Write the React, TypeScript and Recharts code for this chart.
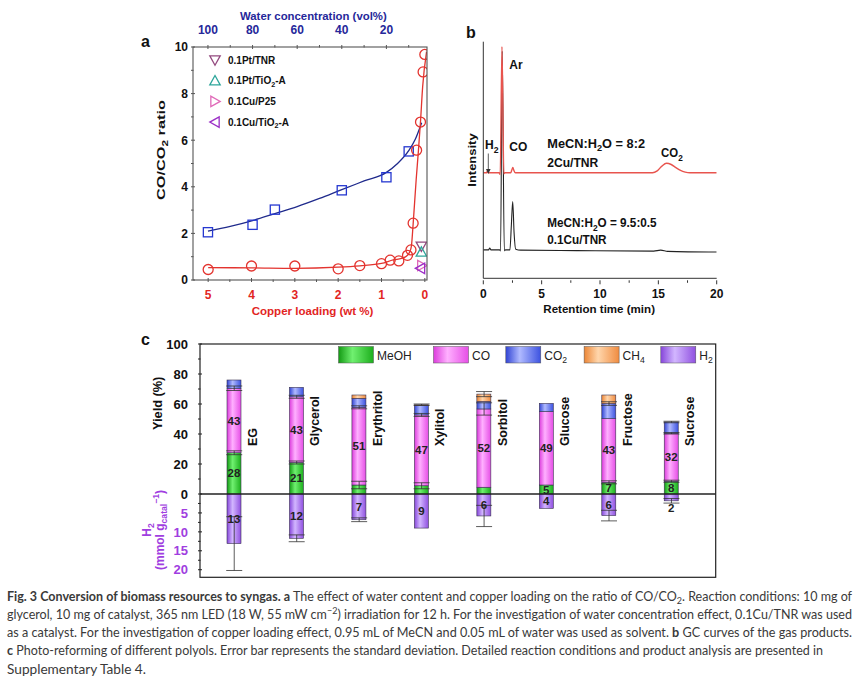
import React from 'react';
import {
  ComposedChart,
  Line,
  Scatter,
  Bar,
  XAxis,
  YAxis,
  LabelList,
  ErrorBar,
  Legend
} from 'recharts';

const FONT = '"Liberation Sans", Arial, sans-serif';
const CAPTION_FONT = 'Lato, "Open Sans", sans-serif';

// ---- a: CO/CO2 ratio vs water content / copper loading ----
const waterConc = [100, 80, 70, 40, 20, 10];
const waterRatio = [2.05, 2.37, 3.02, 3.85, 4.41, 5.52];
const waterFitConc = [100, 90, 80, 70, 60, 50, 40, 30, 20, 15, 10, 7, 4.2];
const waterFitRatio = [2.1, 2.3, 2.55, 2.85, 3.15, 3.5, 3.88, 4.25, 4.62, 5.0, 5.55, 6.05, 6.75];
const cuLoading = [5, 4, 3, 2, 1.5, 1, 0.8, 0.6, 0.4, 0.32, 0.27, 0.19, 0.1, 0.04, 0];
const cuRatio = [0.45, 0.6, 0.6, 0.48, 0.62, 0.7, 0.85, 0.82, 1.06, 1.29, 2.44, 5.57, 6.78, 8.93, 9.68];
const cuFitLoading = [5, 4, 3, 2, 1.5, 1, 0.73, 0.5, 0.42, 0.35, 0.31, 0.27, 0.2, 0.15, 0.1, 0.05, -0.04];
const cuFitRatio = [0.53, 0.52, 0.5, 0.55, 0.61, 0.71, 0.86, 0.95, 1.03, 1.2, 1.45, 2.4, 4.3, 5.5, 6.8, 8.3, 9.8];
const refCatalysts = ['0.1Pt/TNR', '0.1Pt/TiO_{2}-A', '0.1Cu/P25', '0.1Cu/TiO_{2}-A'];
const refLoading = [0.08, 0.08, 0.07, 0.1];
const refRatio = [1.45, 1.2, 0.62, 0.5];
const ratioTicks = [0, 1, 2, 3, 4, 5, 6, 7, 8, 9, 10];
const cuTicks = [0, 0.5, 1, 1.5, 2, 2.5, 3, 3.5, 4, 4.5, 5];
const waterTicks = [100, 90, 80, 70, 60, 50, 40, 30, 20, 10];

// ---- b: GC traces ----
const redTime = [0, 0.28, 0.36, 0.44, 1.35, 1.45, 1.6, 1.76, 1.86, 2.35, 2.45, 2.53, 2.62, 2.75, 14.5, 14.9, 15.3, 15.7, 16.1, 16.5, 16.9, 17.3, 17.7, 20];
const redSignal = [44.6, 44.6, 45.5, 44.6, 44.6, 43.9, 97.9, 44.2, 44.6, 44.6, 45.9, 46.8, 45.6, 44.6, 44.6, 45.4, 47.4, 48.6, 48.1, 46.8, 45.6, 44.9, 44.6, 44.6];
const blackTime = [0, 0.45, 0.55, 0.66, 1.4, 1.48, 1.62, 1.8, 1.9, 2.28, 2.4, 2.52, 2.64, 2.78, 3.2, 8, 14.6, 15.2, 15.8, 20];
const blackSignal = [12.0, 12.0, 12.8, 12.0, 12.0, 11.6, 96, 11.7, 12.0, 12.0, 22, 32.4, 19, 12.3, 11.9, 11.7, 11.5, 11.9, 11.4, 11.1];
const timeTicks = [0, 2.5, 5, 7.5, 10, 12.5, 15, 17.5, 20];

// ---- c: photo-reforming of polyols ----
const polyols = ['EG', 'Glycerol', 'Erythritol', 'Xylitol', 'Sorbitol', 'Glucose', 'Fructose', 'Sucrose'];
const meohYield = [27.5, 21, 6, 5.5, 4.5, 6, 7.8, 8.5];
const coYield = [43, 43.8, 51.8, 47.2, 52.2, 49, 42.5, 32];
const co2Yield = [5.5, 6.3, 6, 6.2, 5, 5.4, 10, 7.5];
const ch4Yield = [0, 0, 2.2, 0.6, 4.9, 0, 5.7, 0];
const h2Amount = [13.1, 11.7, 6.8, 9, 5.8, 3.8, 5.7, 1.8];
const meohErr = [1.3, 1.0, 2.5, 2.0, 0, 0, 1.0, 0.7];
const coErr = [1.5, 1.0, 1.0, 1.0, 4.1, 0, 0, 0.5];
const co2Err = [0, 0, 0, 0, 0, 0, 1.2, 0.5];
const ch4Err = [0, 0, 0, 0.5, 1.7, 0, 0, 0];
const h2Err = [7.1, 0.9, 0.5, 0, 2.8, 0, 1.4, 0.6];
const meohLabels = ['28', '21', null, null, null, '5', '7', '8'];
const coLabels = ['43', '43', '51', '47', '52', '49', '43', '32'];
const h2Labels = ['13', '12', '7', '9', '6', '4', '6', '2'];
const yieldTicks = [0, 10, 20, 30, 40, 50, 60, 70, 80, 90, 100];
const h2Ticks = [2.5, 5, 7.5, 10, 12.5, 15, 17.5, 20];

const NAME_Y = 32;

const waterPts = waterConc.map((w, i) => ({ water: w, ratio: waterRatio[i] }));
const waterFit = waterFitConc.map((w, i) => ({ water: w, ratio: waterFitRatio[i] }));
const cuPts = cuLoading.map((c, i) => ({ cu: c, ratio: cuRatio[i] }));
const cuFit = cuFitLoading.map((c, i) => ({ cu: c, ratio: cuFitRatio[i] }));
const redTrace = redTime.map((t, i) => ({ t, s: redSignal[i] }));
const blackTrace = blackTime.map((t, i) => ({ t, s: blackSignal[i] }));

const meohTop = meohYield;
const coTop = meohTop.map((v, i) => v + coYield[i]);
const co2Top = coTop.map((v, i) => v + co2Yield[i]);
const ch4Top = co2Top.map((v, i) => v + ch4Yield[i]);

const yieldRows = polyols.map((name, i) => ({
  name,
  meoh: meohYield[i],
  co: coYield[i],
  co2: co2Yield[i],
  ch4: ch4Yield[i],
  meohLabel: meohLabels[i],
  coLabel: coLabels[i],
  nameY: NAME_Y
}));
const h2Rows = polyols.map((name, i) => ({ name, h2: h2Amount[i], h2Label: h2Labels[i] }));

const errSets = [
  { key: 'meoh', top: meohTop, err: meohErr },
  { key: 'co', top: coTop, err: coErr },
  { key: 'co2', top: co2Top, err: co2Err },
  { key: 'ch4', top: ch4Top, err: ch4Err }
].map(s => ({
  key: s.key,
  points: polyols.map((name, i) => ({ name, y: s.top[i], e: s.err[i] })).filter(d => d.e > 0)
}));
const h2ErrPts = polyols.map((name, i) => ({ name, y: h2Amount[i], e: h2Err[i] })).filter(d => d.e > 0);

const SERIES = [
  { key: 'meoh', name: 'MeOH', stops: ['#139a13', '#70f070', '#1cae1c'] },
  { key: 'co', name: 'CO', stops: ['#dc3cdc', '#ffb0ff', '#e64ee6'] },
  { key: 'co2', name: 'CO_{2}', stops: ['#3144d4', '#b0baff', '#3c52e0'] },
  { key: 'ch4', name: 'CH_{4}', stops: ['#ec8636', '#ffd6ac', '#f08c40'] },
  { key: 'h2', name: 'H_{2}', stops: ['#8646da', '#d2b6ff', '#9050e0'] }
];

const REF_STYLE = [
  { kind: 'down', color: '#93497f' },
  { kind: 'up', color: '#2ea69b' },
  { kind: 'right', color: '#e06ab8' },
  { kind: 'left', color: '#9b2fc6' }
];

// text with _{sub}, ^{sup} and *{bold} runs
const parseChem = (s: string) => {
  const out: { t: string; k: string }[] = [];
  const re = /([_^*])\{([^}]*)\}/g;
  let last = 0;
  let m: RegExpExecArray | null;
  while ((m = re.exec(s)) !== null) {
    if (m.index > last) out.push({ t: s.slice(last, m.index), k: 'n' });
    out.push({ t: m[2], k: m[1] });
    last = re.lastIndex;
  }
  if (last < s.length) out.push({ t: s.slice(last), k: 'n' });
  return out;
};

const chemSpans = (s: string, size: number) => {
  let shift = 0;
  return parseChem(s).map((p, i) => {
    const target = p.k === '_' ? size * 0.28 : p.k === '^' ? -size * 0.38 : 0;
    const dy = target - shift;
    shift = target;
    const small = p.k === '_' || p.k === '^';
    return (
      <tspan key={i} dy={dy || undefined} fontSize={small ? size * 0.72 : undefined} fontWeight={p.k === '*' ? 'bold' : undefined}>
        {p.t}
      </tspan>
    );
  });
};

interface LabelSpec {
  x: number;
  y: number;
  s: string;
  size: number;
  color?: string;
  weight?: string;
  anchor?: 'start' | 'middle' | 'end';
  rot?: boolean;
  len?: number;
  family?: string;
}

const SvgLabel = ({ x, y, s, size, color = '#111', weight = 'bold', anchor = 'start', rot, len, family = FONT }: LabelSpec) => (
  <text
    x={x}
    y={y}
    fontSize={size}
    fill={color}
    fontWeight={weight}
    textAnchor={anchor}
    fontFamily={family}
    transform={rot ? `rotate(-90 ${x} ${y})` : undefined}
    textLength={len}
    lengthAdjust={len ? 'spacingAndGlyphs' : undefined}
  >
    {chemSpans(s, size)}
  </text>
);

// ticks drawn by hand so that minor ticks and inward ticks are possible
type Side = 'left' | 'right' | 'top' | 'bottom';
interface TickOpt {
  side: Side;
  major: number[];
  inward: boolean;
  gap: number;
  color: string;
  size: number;
  stroke: string;
  label?: boolean;
}

const makeTick = (o: TickOpt) => (props: any) => {
  const { x, y, payload } = props;
  const v = payload.value;
  const isMajor = o.major.some(m => Math.abs(m - v) < 1e-9);
  const len = isMajor ? 4 : 2.5;
  const inX = o.side === 'left' ? 1 : o.side === 'right' ? -1 : 0;
  const inY = o.side === 'top' ? 1 : o.side === 'bottom' ? -1 : 0;
  const d = o.inward ? 1 : -1;
  let label = null;
  if (isMajor && o.label !== false) {
    const off = (o.inward ? 0 : 4) + o.gap;
    let tx = x;
    let ty = y;
    let anchor = 'middle';
    if (o.side === 'left') {
      tx = x - off;
      ty = y + o.size * 0.36;
      anchor = 'end';
    } else if (o.side === 'right') {
      tx = x + off;
      ty = y + o.size * 0.36;
      anchor = 'start';
    } else if (o.side === 'bottom') {
      ty = y + off + o.size * 0.72;
    } else {
      ty = y - off;
    }
    label = (
      <text x={tx} y={ty} textAnchor={anchor} fill={o.color} fontSize={o.size} fontWeight="bold" fontFamily={FONT}>
        {v}
      </text>
    );
  }
  return (
    <g>
      <line x1={x} y1={y} x2={x + inX * d * len} y2={y + inY * d * len} stroke={o.stroke} strokeWidth={1} />
      {label}
    </g>
  );
};

const markerEl = (kind: string, cx: number, cy: number, color: string) => {
  const st = { fill: 'none', stroke: color, strokeWidth: 1.3 };
  const r = 5.2;
  switch (kind) {
    case 'circle':
      return <circle cx={cx} cy={cy} r={5} {...st} />;
    case 'square':
      return <rect x={cx - 4.6} y={cy - 4.6} width={9.2} height={9.2} {...st} />;
    case 'down':
      return <polygon points={`${cx - r},${cy - r * 0.8} ${cx + r},${cy - r * 0.8} ${cx},${cy + r}`} {...st} />;
    case 'up':
      return <polygon points={`${cx - r},${cy + r * 0.8} ${cx + r},${cy + r * 0.8} ${cx},${cy - r}`} {...st} />;
    case 'right':
      return <polygon points={`${cx - r * 0.8},${cy - r} ${cx - r * 0.8},${cy + r} ${cx + r},${cy}`} {...st} />;
    default:
      return <polygon points={`${cx + r * 0.8},${cy - r} ${cx + r * 0.8},${cy + r} ${cx - r},${cy}`} {...st} />;
  }
};

const RatioLegend = () => (
  <svg width={110} height={85}>
    {refCatalysts.map((name, i) => {
      const cy = 10 + i * 20.7;
      return (
        <g key={name}>
          {markerEl(REF_STYLE[i].kind, 10, cy, REF_STYLE[i].color)}
          <SvgLabel x={23} y={cy + 3.5} s={name} size={10} />
        </g>
      );
    })}
  </svg>
);

const RatioChart = () => (
  <ComposedChart width={320} height={330} margin={{ top: 20, right: 22, bottom: 10, left: 23 }}>
    <XAxis
      xAxisId="cu"
      type="number"
      dataKey="cu"
      domain={[-0.05, 5.35]}
      reversed
      allowDataOverflow
      ticks={cuTicks}
      interval={0}
      height={40}
      tickSize={0}
      tickLine={false}
      axisLine={false}
      tick={makeTick({ side: 'bottom', major: [0, 1, 2, 3, 4, 5], inward: true, gap: 8, color: '#e2261f', size: 12, stroke: '#555' })}
    />
    <XAxis
      xAxisId="water"
      type="number"
      dataKey="water"
      orientation="top"
      domain={[1.8, 106.7]}
      reversed
      allowDataOverflow
      ticks={waterTicks}
      interval={0}
      height={27}
      tickSize={0}
      tickLine={false}
      axisLine={false}
      tick={makeTick({ side: 'top', major: [100, 80, 60, 40, 20], inward: true, gap: 11, color: '#26279a', size: 12, stroke: '#555' })}
    />
    <YAxis
      yAxisId="l"
      type="number"
      domain={[0, 10]}
      allowDataOverflow
      ticks={ratioTicks}
      interval={0}
      width={40}
      tickSize={0}
      tickLine={false}
      axisLine={false}
      tick={makeTick({ side: 'left', major: [0, 2, 4, 6, 8, 10], inward: true, gap: 3, color: '#111', size: 12, stroke: '#555' })}
    />
    <YAxis
      yAxisId="r"
      orientation="right"
      type="number"
      domain={[0, 10]}
      ticks={ratioTicks}
      interval={0}
      width={1}
      tickSize={0}
      tickLine={false}
      axisLine={false}
      tick={makeTick({ side: 'right', major: [0, 2, 4, 6, 8, 10], inward: true, gap: 3, color: '#111', size: 12, stroke: '#555', label: false })}
    />
    <Legend
      layout="horizontal"
      verticalAlign="middle"
      align="center"
      wrapperStyle={{ left: 75, top: 50, width: 110, height: 85 }}
      content={() => <RatioLegend />}
    />
    <Line xAxisId="water" yAxisId="l" data={waterFit} dataKey="ratio" type="monotone" stroke="#1f2a8c" strokeWidth={1.3} dot={false} isAnimationActive={false} />
    <Line xAxisId="cu" yAxisId="l" data={cuFit} dataKey="ratio" type="monotone" stroke="#e3342f" strokeWidth={1.3} dot={false} isAnimationActive={false} />
    <Scatter xAxisId="water" yAxisId="l" data={waterPts} dataKey="ratio" shape={(p: any) => markerEl('square', p.cx, p.cy, '#2638d0')} isAnimationActive={false} />
    <Scatter xAxisId="cu" yAxisId="l" data={cuPts} dataKey="ratio" shape={(p: any) => markerEl('circle', p.cx, p.cy, '#e3342f')} isAnimationActive={false} />
    {refCatalysts.map((name, i) => (
      <Scatter
        key={name}
        xAxisId="cu"
        yAxisId="l"
        data={[{ cu: refLoading[i], ratio: refRatio[i] }]}
        dataKey="ratio"
        shape={(p: any) => markerEl(REF_STYLE[i].kind, p.cx, p.cy, REF_STYLE[i].color)}
        isAnimationActive={false}
      />
    ))}
  </ComposedChart>
);

const GcChart = () => (
  <ComposedChart width={300} height={300} margin={{ top: 21.7, right: 23.3, bottom: 11.7, left: 23.3 }}>
    <XAxis
      type="number"
      dataKey="t"
      domain={[0, 20]}
      allowDataOverflow
      ticks={timeTicks}
      interval={0}
      height={30}
      tickSize={0}
      tickLine={false}
      stroke="#333"
      tick={makeTick({ side: 'bottom', major: [0, 5, 10, 15, 20], inward: false, gap: 5, color: '#111', size: 12, stroke: '#333' })}
    />
    <YAxis type="number" domain={[0, 100]} allowDataOverflow width={20} tick={false} tickLine={false} stroke="#333" />
    <Line data={blackTrace} dataKey="s" type="monotone" stroke="#222" strokeWidth={1.1} dot={false} isAnimationActive={false} />
    <Line data={redTrace} dataKey="s" type="monotone" stroke="#e8544e" strokeWidth={1.4} dot={false} isAnimationActive={false} />
  </ComposedChart>
);

const gradDefs = (prefix: string) => (
  <defs>
    {SERIES.map(s => (
      <linearGradient key={s.key} id={`${prefix}-${s.key}`} x1="0" y1="0" x2="1" y2="0">
        <stop offset="0%" stopColor={s.stops[0]} />
        <stop offset="40%" stopColor={s.stops[1]} />
        <stop offset="100%" stopColor={s.stops[2]} />
      </linearGradient>
    ))}
  </defs>
);

const barShape = (gradId: string) => (p: any) => {
  const { x, y, width, height } = p;
  if (!height || Math.abs(height) < 0.01) return <g />;
  const top = Math.min(y, y + height);
  return <rect x={x} y={top} width={width} height={Math.abs(height)} fill={`url(#${gradId})`} stroke="#3b3350" strokeWidth={0.6} />;
};

const segLabel = (below: boolean) => (p: any) => {
  const vb = p.viewBox || p;
  const { value } = p;
  if (value == null || value === '') return null;
  const top = Math.min(vb.y, vb.y + vb.height);
  const bottom = Math.max(vb.y, vb.y + vb.height);
  const cx = vb.x + vb.width / 2;
  const cy = below && bottom - top < 12 ? bottom + 11 : (top + bottom) / 2 + 4;
  return (
    <text x={cx} y={cy} textAnchor="middle" fontSize={11.5} fontWeight="bold" fill="#222" fontFamily={FONT}>
      {value}
    </text>
  );
};

const nameShape = (p: any) => {
  const x = p.cx + 22.5;
  return (
    <text x={x} y={p.cy} transform={`rotate(-90 ${x} ${p.cy})`} fontSize={12.5} fontWeight="bold" fill="#111" fontFamily={FONT}>
      {p.payload.name}
    </text>
  );
};

const noDot = () => <g />;

const LEGEND_X = [0, 95, 167.3, 245.6, 322.3];

const YieldLegend = () => (
  <svg width={385} height={20}>
    {gradDefs('lg')}
    {SERIES.map((s, i) => (
      <g key={s.key}>
        <rect x={LEGEND_X[i] + 0.5} y={0.5} width={35} height={16.5} fill={`url(#lg-${s.key})`} stroke="#555" strokeWidth={0.5} />
        <SvgLabel x={LEGEND_X[i] + 39} y={13.5} s={s.name} size={12} weight="normal" color="#222" />
      </g>
    ))}
  </svg>
);

const YieldChart = () => (
  <ComposedChart width={620} height={180} data={yieldRows} margin={{ top: 14, right: 24.3, bottom: 16, left: 40 }}>
    {gradDefs('yc')}
    <XAxis dataKey="name" allowDuplicatedCategory={false} padding={{ left: 3, right: 13 }} height={0} tick={false} tickLine={false} axisLine={false} />
    <YAxis
      type="number"
      domain={[0, 100]}
      allowDataOverflow
      ticks={yieldTicks}
      interval={0}
      width={40}
      tickSize={0}
      tickLine={false}
      axisLine={false}
      tick={makeTick({ side: 'left', major: [0, 20, 40, 60, 80, 100], inward: true, gap: 10, color: '#111', size: 13, stroke: '#222' })}
    />
    <Legend
      layout="horizontal"
      verticalAlign="middle"
      align="center"
      wrapperStyle={{ left: 217.7, top: 16.2, width: 385, height: 20 }}
      content={() => <YieldLegend />}
    />
    <Bar dataKey="meoh" stackId="y" barSize={14} shape={barShape('yc-meoh')} isAnimationActive={false}>
      <LabelList dataKey="meohLabel" content={segLabel(false)} />
    </Bar>
    <Bar dataKey="co" stackId="y" barSize={14} shape={barShape('yc-co')} isAnimationActive={false}>
      <LabelList dataKey="coLabel" content={segLabel(false)} />
    </Bar>
    <Bar dataKey="co2" stackId="y" barSize={14} shape={barShape('yc-co2')} isAnimationActive={false} />
    <Bar dataKey="ch4" stackId="y" barSize={14} shape={barShape('yc-ch4')} isAnimationActive={false} />
    {errSets.map(s => (
      <Scatter key={s.key} data={s.points} dataKey="y" shape={noDot} isAnimationActive={false}>
        <ErrorBar dataKey="e" direction="y" width={8} stroke="#333" strokeWidth={0.8} />
      </Scatter>
    ))}
    <Scatter dataKey="nameY" shape={nameShape} isAnimationActive={false} />
  </ComposedChart>
);

const H2Chart = () => (
  <ComposedChart width={620} height={100} data={h2Rows} margin={{ top: 0, right: 24.3, bottom: 16.7, left: 40 }}>
    {gradDefs('hc')}
    <XAxis dataKey="name" allowDuplicatedCategory={false} padding={{ left: 3, right: 13 }} height={0} tick={false} tickLine={false} axisLine={false} />
    <YAxis
      type="number"
      domain={[0, 22]}
      reversed
      allowDataOverflow
      ticks={h2Ticks}
      interval={0}
      width={40}
      tickSize={0}
      tickLine={false}
      axisLine={false}
      tick={makeTick({ side: 'left', major: [5, 10, 15, 20], inward: true, gap: 10, color: '#a03ee0', size: 13, stroke: '#222' })}
    />
    <Bar dataKey="h2" barSize={14} shape={barShape('hc-h2')} isAnimationActive={false}>
      <LabelList dataKey="h2Label" content={segLabel(true)} />
    </Bar>
    <Scatter data={h2ErrPts} dataKey="y" shape={noDot} isAnimationActive={false}>
      <ErrorBar dataKey="e" direction="y" width={8} stroke="#333" strokeWidth={0.8} />
    </Scatter>
  </ComposedChart>
);

const ANNOTATIONS: LabelSpec[] = [
  { x: 141, y: 46.5, s: 'a', size: 16 },
  { x: 240, y: 20, s: 'Water concentration (vol%)', size: 11.5, color: '#26279a', len: 146.7 },
  { x: 165, y: 200, s: 'CO/CO_{2} ratio', size: 11.5, rot: true, len: 100 },
  { x: 251.7, y: 315, s: 'Copper loading (wt %)', size: 11.5, color: '#e2261f', len: 121.7 },
  { x: 466, y: 38, s: 'b', size: 16 },
  { x: 476, y: 186.7, s: 'Intensity', size: 11.5, rot: true, len: 53.3 },
  { x: 543.3, y: 313.3, s: 'Retention time (min)', size: 11.5, len: 111.7 },
  { x: 509.3, y: 69, s: 'Ar', size: 12 },
  { x: 485, y: 149.3, s: 'H_{2}', size: 12 },
  { x: 509.3, y: 151, s: 'CO', size: 12 },
  { x: 547.3, y: 147.7, s: 'MeCN:H_{2}O = 8:2', size: 12, len: 97.7 },
  { x: 547.3, y: 166.7, s: '2Cu/TNR', size: 12, len: 51 },
  { x: 661, y: 157.3, s: 'CO_{2}', size: 12, len: 21.7 },
  { x: 547.3, y: 227.3, s: 'MeCN:H_{2}O = 9.5:0.5', size: 12, len: 109.3 },
  { x: 547.3, y: 244, s: '0.1Cu/TNR', size: 12, len: 59.3 },
  { x: 141, y: 345, s: 'c', size: 16 },
  { x: 162, y: 430, s: 'Yield (%)', size: 12, rot: true, len: 53.3 },
  { x: 150.5, y: 530, s: 'H_{2}', size: 12, rot: true, anchor: 'middle', color: '#a03ee0' },
  { x: 164, y: 530, s: '(mmol g_{catal}^{−1})', size: 12, rot: true, anchor: 'middle', color: '#a03ee0', len: 80 }
];

const CAPTION = [
  { s: '*{Fig. 3 Conversion of biomass resources to syngas. a} The effect of water content and copper loading on the ratio of CO/CO_{2}. Reaction conditions: 10 mg of', len: 845 },
  { s: 'glycerol, 10 mg of catalyst, 365 nm LED (18 W, 55 mW cm^{−2}) irradiation for 12 h. For the investigation of water concentration effect, 0.1Cu/TNR was used', len: 845 },
  { s: 'as a catalyst. For the investigation of copper loading effect, 0.95 mL of MeCN and 0.05 mL of water was used as solvent. *{b} GC curves of the gas products.', len: 845 },
  { s: '*{c} Photo-reforming of different polyols. Error bar represents the standard deviation. Detailed reaction conditions and product analysis are presented in', len: 816 },
  { s: 'Supplementary Table 4.', len: 139 }
];

export default function App() {
  return (
    <div style={{ position: 'absolute', left: 0, top: 0, width: 856, height: 677, background: '#fff', overflow: 'hidden' }}>
      <div style={{ position: 'absolute', left: 130, top: 0 }}>
        <RatioChart />
      </div>
      <div style={{ position: 'absolute', left: 440, top: 20 }}>
        <GcChart />
      </div>
      <div style={{ position: 'absolute', left: 120, top: 494 }}>
        <H2Chart />
      </div>
      <div style={{ position: 'absolute', left: 120, top: 330 }}>
        <YieldChart />
      </div>
      <svg width={856} height={677} style={{ position: 'absolute', left: 0, top: 0, pointerEvents: 'none' }}>
        {/* plot frames and the zero line of panel c */}
        <rect x={193} y={47} width={234} height={233} fill="none" stroke="#555" strokeWidth={1.1} />
        <rect x={200} y={344} width={515.7} height={233.3} fill="none" stroke="#222" strokeWidth={1.2} />
        <line x1={200} y1={494} x2={715.7} y2={494} stroke="#222" strokeWidth={1.6} />
        {ANNOTATIONS.map((a, i) => (
          <SvgLabel key={i} {...a} />
        ))}
        <line x1={488.3} y1={153.5} x2={488.3} y2={170} stroke="#333" strokeWidth={0.8} />
        <polygon points="486,169 490.6,169 488.3,174" fill="#333" />
        {CAPTION.map((c, i) => (
          <SvgLabel key={i} x={7} y={600.5 + i * 18.3} s={c.s} size={12.5} weight="normal" color="#3a3a3a" family={CAPTION_FONT} len={c.len} />
        ))}
      </svg>
    </div>
  );
}
